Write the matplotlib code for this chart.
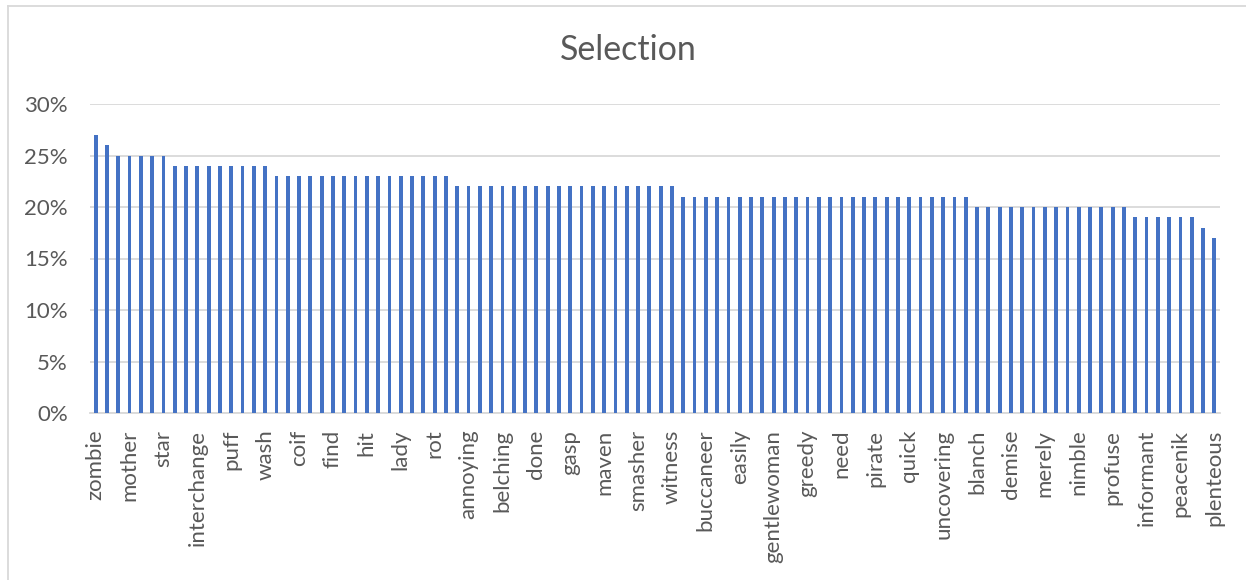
""" SELECTION BAR CHART """

# imports
import numpy as np
import matplotlib
matplotlib.use('Agg')
import matplotlib.pyplot as plt
from matplotlib.ticker import FuncFormatter


# shown category labels (excel prints only every third one)
labels = ['zombie', 'mother', 'star', 'interchange', 'puff', 'wash', 'coif', 'find',
          'hit', 'lady', 'rot', 'annoying', 'belching', 'done', 'gasp', 'maven',
          'smasher', 'witness', 'buccaneer', 'easily', 'gentlewoman', 'greedy', 'need',
          'pirate', 'quick', 'uncovering', 'blanch', 'demise', 'merely', 'nimble',
          'profuse', 'informant', 'peacenik', 'plenteous']
label_step = 3

# selection share of every word, in %
values = ([27, 26] + [25] * 5 + [24] * 9 + [23] * 16 + [22] * 20 + [21] * 26
          + [20] * 14 + [19] * 6 + [18, 17])

y_ticks = [0, 5, 10, 15, 20, 25, 30]

# colours
bar_col = '#4472C4'
grid_col = '#D9D9D9'
txt_col = '#595959'

plt.rcParams['font.family'] = ['Lato', 'DejaVu Sans']

W, H = 1246, 580
fig = plt.figure(figsize=(W / 100, H / 100), dpi=100)
ax = fig.add_axes([90 / W, 1 - 413 / H, (1220 - 90) / W, (413 - 104) / H])

# bars
vals = np.array(values) / 100
x = np.arange(len(vals))
ax.bar(x, vals, width=0.34, color=bar_col, zorder=3)

# axes
ax.set_xlim(-0.5, len(vals) - 0.5)
ax.set_ylim(0, 0.30)
ax.set_yticks([t / 100 for t in y_ticks])
ax.yaxis.set_major_formatter(FuncFormatter(lambda v, p: f'{v * 100:.0f}%'))
ax.set_xticks(x[::label_step])
ax.set_xticklabels(labels, rotation=90)
ax.tick_params(axis='both', length=0, colors=txt_col, labelsize=16)
ax.tick_params(axis='y', pad=16)
ax.tick_params(axis='x', pad=12)
ax.grid(axis='y', color=grid_col, linewidth=1.3, zorder=0)
for side in ['top', 'right', 'left']:
    ax.spines[side].set_visible(False)
ax.spines['bottom'].set_color(grid_col)
ax.spines['bottom'].set_linewidth(1.3)

# chart frame, cut at the right and bottom
fig.add_artist(plt.Line2D([8 / W, 8 / W], [0, 1 - 6 / H], color=grid_col, lw=1.3))
fig.add_artist(plt.Line2D([8 / W, 1], [1 - 6 / H, 1 - 6 / H], color=grid_col, lw=1.3))

# title
fig.text(628 / W, 1 - 50 / H, 'Selection', ha='center', va='center', fontsize=24.5, color=txt_col)

fig.savefig('out.png', dpi=100)
